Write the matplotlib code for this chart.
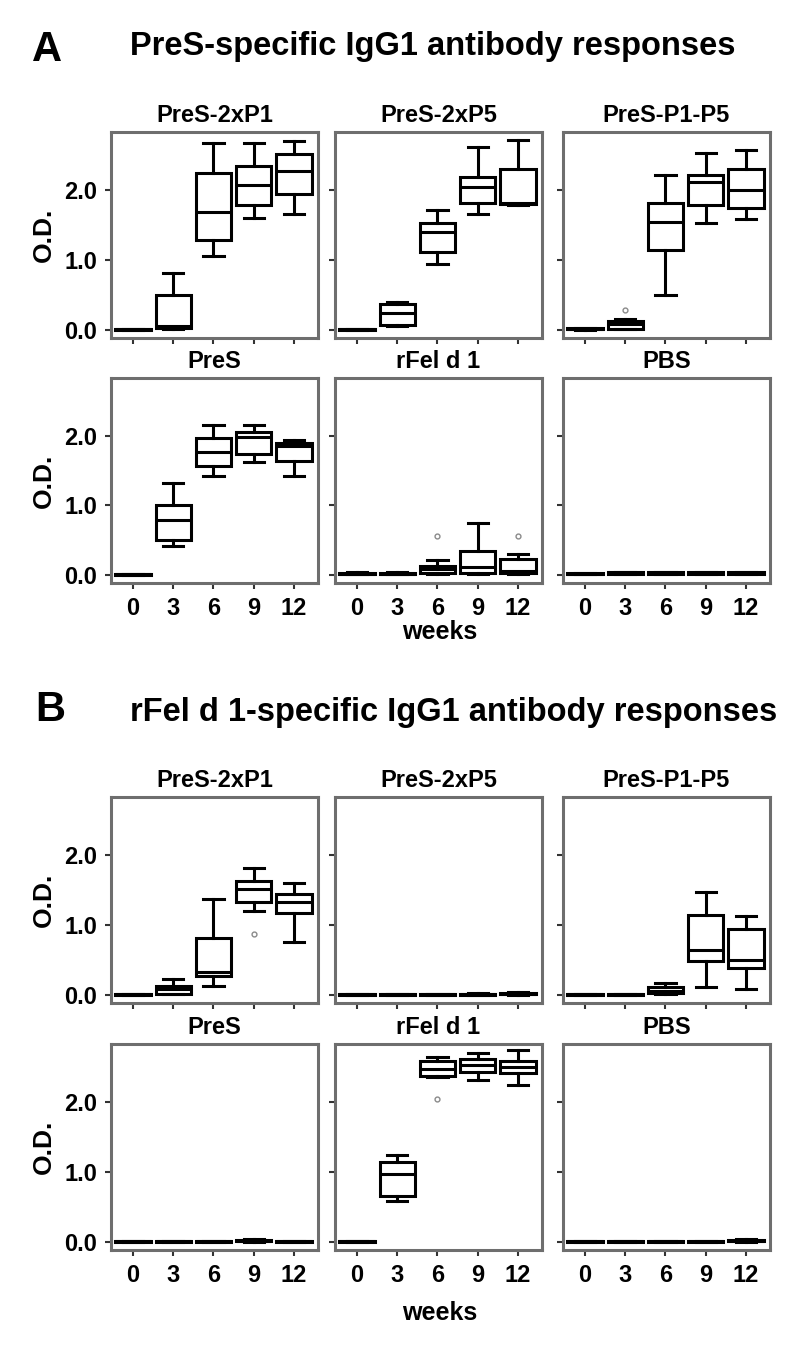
import matplotlib
matplotlib.use("Agg")
import matplotlib.pyplot as plt

plt.rcParams["font.family"] = ["Liberation Sans", "DejaVu Sans"]
plt.rcParams["font.weight"] = "bold"

WEEKS = ["0", "3", "6", "9", "12"]
GROUPS = ["PreS-2xP1", "PreS-2xP5", "PreS-P1-P5", "PreS", "rFel d 1", "PBS"]

# box stats per week: (whisker low, q1, median, q3, whisker high)
FLAT = (0.0, 0.005, 0.01, 0.015, 0.02)
LOW = (0.01, 0.02, 0.03, 0.04, 0.05)

A_STATS = {
    "PreS-2xP1": [FLAT, (0.01, 0.03, 0.05, 0.50, 0.81), (1.06, 1.29, 1.69, 2.24, 2.67),
                  (1.60, 1.79, 2.07, 2.34, 2.67), (1.66, 1.95, 2.27, 2.52, 2.70)],
    "PreS-2xP5": [FLAT, (0.05, 0.07, 0.24, 0.37, 0.40), (0.95, 1.11, 1.40, 1.53, 1.72),
                  (1.66, 1.82, 2.04, 2.18, 2.61), (1.78, 1.80, 1.81, 2.30, 2.72)],
    "PreS-P1-P5": [(0.0, 0.01, 0.015, 0.025, 0.03), (0.01, 0.02, 0.08, 0.13, 0.15),
                   (0.50, 1.14, 1.55, 1.82, 2.21), (1.53, 1.79, 2.12, 2.22, 2.53),
                   (1.58, 1.75, 2.00, 2.30, 2.57)],
    "PreS": [FLAT, (0.41, 0.50, 0.79, 1.00, 1.32), (1.42, 1.56, 1.77, 1.97, 2.15),
             (1.62, 1.74, 1.98, 2.05, 2.15), (1.42, 1.64, 1.85, 1.90, 1.94)],
    "rFel d 1": [(0.01, 0.015, 0.02, 0.03, 0.04), (0.01, 0.015, 0.02, 0.03, 0.04),
                 (0.01, 0.03, 0.08, 0.13, 0.21), (0.02, 0.03, 0.11, 0.34, 0.74),
                 (0.02, 0.03, 0.06, 0.23, 0.30)],
    "PBS": [(0.01, 0.015, 0.02, 0.025, 0.03), LOW, LOW, LOW, LOW],
}
A_FLIERS = {
    "PreS-P1-P5": [[], [0.29], [], [], []],
    "rFel d 1": [[], [], [0.56], [], [0.56]],
}

B_STATS = {
    "PreS-2xP1": [FLAT, (0.01, 0.02, 0.08, 0.13, 0.23), (0.13, 0.27, 0.33, 0.81, 1.37),
                  (1.20, 1.33, 1.51, 1.63, 1.81), (0.75, 1.17, 1.33, 1.45, 1.60)],
    "PreS-2xP5": [FLAT, FLAT, FLAT, (0.0, 0.005, 0.01, 0.02, 0.03), (0.0, 0.01, 0.015, 0.025, 0.04)],
    "PreS-P1-P5": [FLAT, FLAT, (0.02, 0.03, 0.06, 0.11, 0.17), (0.11, 0.48, 0.64, 1.14, 1.47),
                   (0.09, 0.38, 0.50, 0.94, 1.13)],
    "PreS": [FLAT, FLAT, FLAT, (0.0, 0.01, 0.02, 0.03, 0.04), FLAT],
    "rFel d 1": [FLAT, (0.59, 0.66, 0.97, 1.14, 1.24), (2.36, 2.37, 2.47, 2.58, 2.65),
                 (2.32, 2.43, 2.53, 2.61, 2.70), (2.25, 2.41, 2.50, 2.58, 2.74)],
    "PBS": [FLAT, FLAT, FLAT, FLAT, (0.0, 0.01, 0.02, 0.03, 0.04)],
}
B_FLIERS = {
    "PreS-2xP1": [[], [], [], [0.87], []],
    "rFel d 1": [[], [], [2.04], [], []],
}

YTICKS = [0.0, 1.0, 2.0]
YTICK_LABELS = ["0.0", "1.0", "2.0"]

W, H = 800, 1355
COL_LEFT = [111, 335, 563]
COL_W = 207
# (top, bottom) of each row of panels, in pixels
ROWS_A = [(132, 338), (378, 583)]
ROWS_B = [(797, 1003), (1044, 1250)]

fig = plt.figure(figsize=(W / 100, H / 100), dpi=100)


def px_axes(left, top, width, bottom):
    return fig.add_axes([left / W, 1 - bottom / H, width / W, (bottom - top) / H])


def draw_panel(ax, name, stats, fliers, left_col, bottom_row):
    bstats = []
    for i, (lo, q1, med, q3, hi) in enumerate(stats):
        bstats.append(dict(whislo=lo, q1=q1, med=med, q3=q3, whishi=hi,
                           fliers=fliers.get(name, [[]] * 5)[i]))
    ax.bxp(bstats, positions=range(1, 6), widths=0.88, capwidths=0.5,
           patch_artist=True, showfliers=True,
           boxprops=dict(facecolor="white", edgecolor="black", linewidth=2.2),
           medianprops=dict(color="black", linewidth=2.2),
           whiskerprops=dict(color="black", linewidth=2.2),
           capprops=dict(color="black", linewidth=2.2),
           flierprops=dict(marker="o", markerfacecolor="none", markeredgecolor="#8a8a8a",
                           markersize=3.5, markeredgewidth=1))
    ax.set_xlim(0.45, 5.6)
    ax.set_ylim(-0.115, 2.83)
    for sp in ax.spines.values():
        sp.set_color("#6e6e6e")
        sp.set_linewidth(2.2)
    ax.set_yticks(YTICKS)
    ax.set_xticks(range(1, 6))
    ax.tick_params(direction="out", length=4, width=1.5, color="#333333",
                   labelsize=17, pad=6)
    if left_col:
        ax.set_yticklabels(YTICK_LABELS, fontweight="bold")
        ax.set_ylabel("O.D.", fontsize=19, fontweight="bold", labelpad=6)
    else:
        ax.set_yticklabels([])
    if bottom_row:
        ax.set_xticklabels(WEEKS, fontweight="bold")
    else:
        ax.set_xticklabels([])
    ax.set_title(name, fontsize=17, fontweight="bold", pad=7)


for rows, stats, fliers in [(ROWS_A, A_STATS, A_FLIERS), (ROWS_B, B_STATS, B_FLIERS)]:
    for r, (top, bottom) in enumerate(rows):
        for c in range(3):
            name = GROUPS[r * 3 + c]
            ax = px_axes(COL_LEFT[c], top, COL_W, bottom)
            draw_panel(ax, name, stats[name], fliers, c == 0, r == 1)

fig.text(47 / W, 1 - 50 / H, "A", fontsize=30, fontweight="bold", ha="center", va="center")
fig.text(130 / W, 1 - 47 / H, "PreS-specific IgG1 antibody responses", fontsize=23.5,
         fontweight="bold", ha="left", va="center")
fig.text(50 / W, 1 - 710 / H, "B", fontsize=30, fontweight="bold", ha="center", va="center")
fig.text(130 / W, 1 - 712 / H, "rFel d 1-specific IgG1 antibody responses", fontsize=23.5,
         fontweight="bold", ha="left", va="center")
fig.text(440 / W, 1 - 620 / H, "weeks", fontsize=18, fontweight="bold", ha="center", va="top")
fig.text(440 / W, 1 - 1313 / H, "weeks", fontsize=18, fontweight="bold", ha="center", va="center")

fig.savefig("out.png", dpi=100, facecolor="white")
